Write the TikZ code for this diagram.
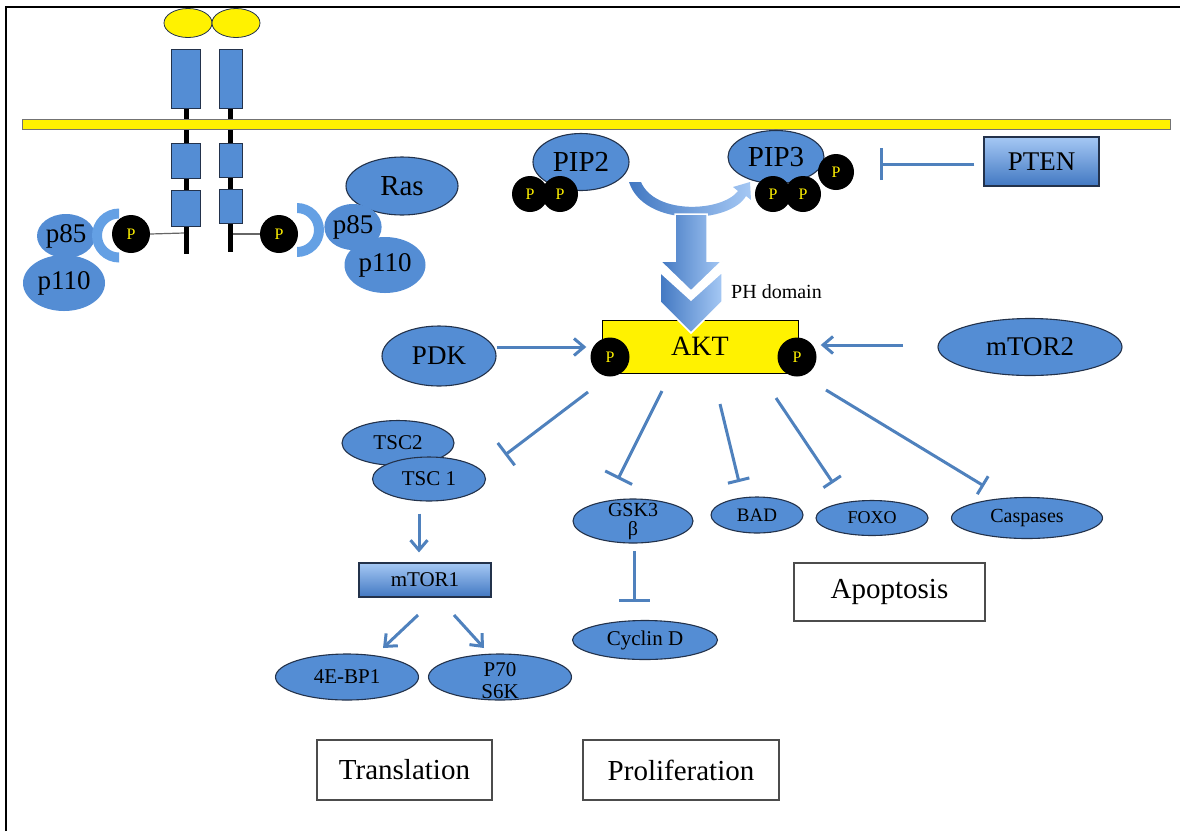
\documentclass[tikz,border=0pt]{standalone}
\usepackage{fontspec}
\setmainfont{Liberation Serif}
\usetikzlibrary{arrows.meta,shapes.geometric,calc}
\definecolor{bblue}{RGB}{84,141,212}
\definecolor{bedge}{RGB}{35,50,75}
\definecolor{lcol}{RGB}{79,129,189}
\definecolor{cres}{RGB}{100,160,228}
\definecolor{gtop}{RGB}{165,200,244}
\definecolor{gbot}{RGB}{66,120,194}
\newcommand{\fsz}[1]{\fontsize{#1}{#1}\selectfont}
\begin{document}
\begin{tikzpicture}[x=1pt,y=-1pt,
  ell/.style={ellipse, fill=bblue, draw=bedge, line width=1.1pt, inner sep=0pt},
  blob/.style={ellipse, fill=bblue, inner sep=0pt},
  pc/.style={circle, fill=black, inner sep=0pt, minimum size=#1, text=yellow, font=\fsz{16}},
  pc/.default=38pt,
  act/.style={draw=lcol, line width=3pt, -{Straight Barb[length=10pt,width=17pt]}},
  inh/.style={draw=lcol, line width=3pt, -{Bar[width=#1]}},
  outbox/.style={draw=black!70, line width=1.3pt, fill=white, font=\fsz{29}, inner sep=0pt},
  grad/.style={draw=bedge, line width=1.1pt, top color=gtop, bottom color=gbot, inner sep=0pt},
  recp/.style={fill=bblue, draw=bedge, line width=1pt},
  bigarr/.style={draw=white, line width=1.5pt, left color=gbot, right color=gtop}]
\useasboundingbox (0,0) rectangle (1180,831);
% frame
\draw[line width=2pt] (6,831) -- (6,7) -- (1180,7);

% receptors
\draw[fill=yellow, draw=bedge, line width=0.8pt] (188,23) ellipse [x radius=24pt, y radius=14.5pt];
\draw[fill=yellow, draw=bedge, line width=0.8pt] (236,23) ellipse [x radius=24pt, y radius=14.5pt];
\fill[black] (184,108) rectangle (189,254);
\fill[black] (228,108) rectangle (233,252);
\draw[recp] (171,49) rectangle (200,108);
\draw[recp] (219,49) rectangle (242,108);
\draw[recp] (171,143) rectangle (200,178);
\draw[recp] (171,190) rectangle (200,226);
\draw[recp] (219,143) rectangle (242,177);
\draw[recp] (219,189) rectangle (242,223);
% membrane
\draw[fill=yellow, draw=black!55, line width=1pt] (22,119) rectangle (1170,129);

% left PI3K complex
\node[blob, minimum width=58pt, minimum height=44pt, font=\fsz{27}] (p85L) at (66,236) {p85};
\node[blob, minimum width=82pt, minimum height=56pt, font=\fsz{27}] (p110L) at (64,283) {p110};
\begin{scope}
  \clip (88,200) rectangle (119,270);
  \fill[cres, even odd rule] (119,235.5) circle[radius=27pt] (119,235.5) circle[radius=17pt];
\end{scope}
\node[pc] (pRL) at (131,234) {P};
\draw[black!60, line width=1.2pt] (pRL.east) -- (184,233);

% right PI3K complex
\node[ell, minimum width=112pt, minimum height=58pt, font=\fsz{29}] (ras) at (402,186) {Ras};
\node[blob, minimum width=56pt, minimum height=46pt, font=\fsz{27}] (p85R) at (353,227) {p85};
\node[blob, minimum width=81pt, minimum height=56pt, font=\fsz{27}] (p110R) at (385,265) {p110};
\begin{scope}
  \clip (297,200) rectangle (330,265);
  \fill[cres, even odd rule] (297,230) circle[radius=27pt] (297,230) circle[radius=17pt];
\end{scope}
\node[pc] (pRR) at (279,234) {P};
\draw[black!60, line width=1.2pt] (pRR.west) -- (233,234);

% PIP2 / PIP3
\node[ell, minimum width=96pt, minimum height=57pt, font=\fsz{29}] (pip2) at (581,162) {PIP2};
\node[pc=36pt] (p2a) at (530,194) {P};
\node[pc=36pt] (p2b) at (560,194) {P};
\node[ell, minimum width=96pt, minimum height=53pt, font=\fsz{29}] (pip3) at (776,157) {PIP3};
\node[pc=36pt] (p3a) at (773,194) {P};
\node[pc=36pt] (p3b) at (803,194) {P};
\node[pc=36pt] (p3c) at (836,172) {P};

% PTEN
\node[grad, minimum width=115pt, minimum height=49pt, font=\fsz{27}] (pten) at (1041.5,161.5) {PTEN};
\coordinate (ptenT) at (880,164);
\draw[inh=32pt, shorten <=9pt] (pten.west |- ptenT) -- (ptenT);

% curved conversion arrow
\shade[left color=gbot, right color=gtop]
  (629,182) .. controls (644,228) and (730,224) .. (746,196) -- (751,200) -- (750,182)
  -- (733,187) -- (738,191) .. controls (722,212) and (655,215) .. (641,182) -- cycle;
% big arrow
\shadedraw[bigarr] (675,214) -- (707,214) -- (707,261) -- (722,261) -- (691,291) -- (660,261) -- (675,261) -- cycle;

% AKT
\node[draw=black, fill=yellow, line width=0.8pt, minimum width=196pt, minimum height=53pt, inner sep=0pt, font=\fsz{28}] (akt) at (700,346.5) {AKT};
\shadedraw[bigarr] (660,272) -- (691,300) -- (722,272) -- (722,302) -- (691,333) -- (660,302) -- cycle;
\node[font=\fsz{20}, anchor=west, inner sep=0pt] (ph) at (731,292) {PH domain};
\node[pc=39pt] (pA1) at (610,357) {P};
\node[pc=39pt] (pA2) at (797,357) {P};

% PDK and mTOR2
\node[ell, minimum width=114pt, minimum height=60pt, font=\fsz{27}] (pdk) at (439,356) {PDK};
\node[ell, minimum width=184pt, minimum height=57pt, font=\fsz{27}] (mtor2) at (1030,347) {mTOR2};
\draw[act] (pdk.east |- 0,347) -- ($(pA1.west |- 0,347)+(-4,0)$);
\draw[act] (903,345) coordinate (m2s) -- ($(pA2.east |- 0,345)+(4,0)$);

% targets
\node[ell, minimum width=112pt, minimum height=45pt, font=\fsz{21}] (tsc2) at (398,443) {TSC2};
\node[ell, minimum width=113pt, minimum height=44pt, font=\fsz{21}] (tsc1) at (429,479) {TSC 1};
\node[ell, minimum width=120pt, minimum height=44pt] (gsk) at (633,521) {};
\node[font=\fsz{20}, align=center, inner sep=0pt] (gsktxt) at (633,521) {GSK3\\[-1pt]β};
\node[ell, minimum width=92pt, minimum height=36pt, font=\fsz{19}] (bad) at (757,515) {BAD};
\node[ell, minimum width=112pt, minimum height=35pt, font=\fsz{18}] (foxo) at (872,518) {FOXO};
\node[ell, minimum width=151pt, minimum height=41pt, font=\fsz{20}] (casp) at (1027,518) {Caspases};
\node[ell, minimum width=145pt, minimum height=39pt, font=\fsz{21}] (cyc) at (645,640) {Cyclin D};

% inhibition from AKT
\coordinate (s1) at (588,392); \coordinate (e1) at (505,455);
\coordinate (s2) at (662,391); \coordinate (e2) at (618,479);
\coordinate (s3) at (720,404); \coordinate (e3) at (739,482);
\coordinate (s4) at (776,398); \coordinate (e4) at (833,483);
\coordinate (s5) at (826,390); \coordinate (e5) at (984,486);
\draw[inh=28pt] (s1) -- (e1);
\draw[inh=30pt] (s2) -- (e2);
\draw[inh=22pt] (s3) -- (e3);
\draw[inh=21pt] (s4) -- (e4);
\draw[inh=21pt] (s5) -- (e5);
\draw[inh=31pt] (634,551) coordinate (gs) -- (634,602) coordinate (ce);

% mTOR1 branch
\node[grad, minimum width=132pt, minimum height=34pt, font=\fsz{21}] (mtor1) at (425,580) {mTOR1};
\draw[act] ($(tsc1.south)+(-10,12)$) -- ($(mtor1.north)+(-6,-10)$);
\node[ell, minimum width=143pt, minimum height=46pt, font=\fsz{21}] (ebp) at (347,677) {4E-BP1};
\node[ell, minimum width=143pt, minimum height=46pt] (p70) at (500,677) {};
\node[font=\fsz{21}, align=center, inner sep=0pt] (p70txt) at (500,681) {P70\\[1pt]S6K};
\draw[act] (418,615) coordinate (m1a) -- (383,648) coordinate (m1b);
\draw[act] (454,615) coordinate (m1c) -- (484,648) coordinate (m1d);

% outcome boxes
\node[outbox, minimum width=175pt, minimum height=60pt] (trans) at (404.5,770) {Translation};
\node[outbox, minimum width=196pt, minimum height=60pt] (prolif) at (681,770) {Proliferation};
\node[outbox, minimum width=191pt, minimum height=58pt] (apop) at (889.5,592) {Apoptosis};
\end{tikzpicture}
\end{document}
